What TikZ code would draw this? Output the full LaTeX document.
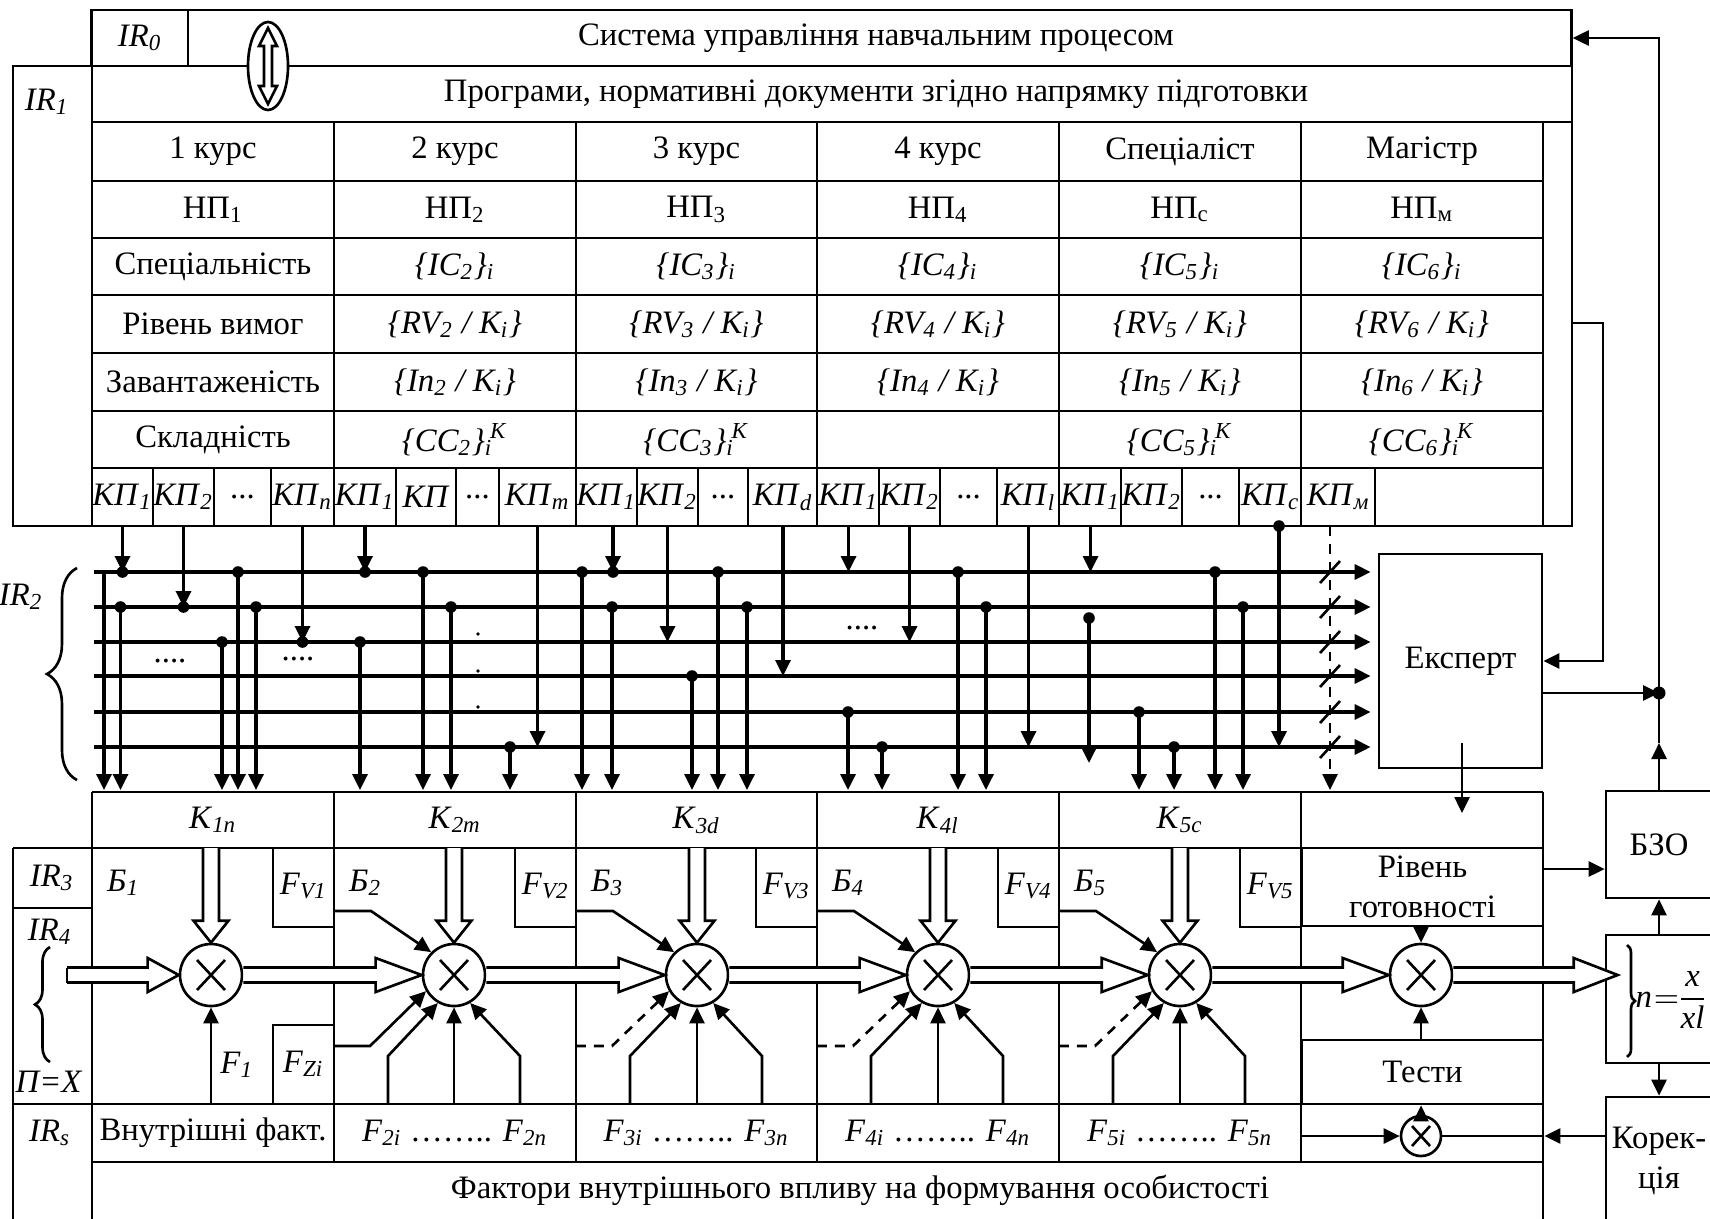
\documentclass[tikz,border=0pt]{standalone}
\usepackage{fontspec}
\setmainfont{Liberation Serif}
\usetikzlibrary{arrows.meta,calc,shapes.geometric,decorations.pathreplacing}

\newcommand{\isub}[2]{\textit{#1}\textsubscript{\textit{#2}}}
\newcommand{\ik}{\makebox[0pt][l]{\textsubscript{\textit{i}}}\textsuperscript{\textit{\kern1.5pt K}}}
% hollow arrows of the signal path
\newcommand{\fatright}[3][46]{%
  \draw[fill=white] ($(#2)+(0,-7.5)$) -- ($(#3)+(-#1,-7.5)$) -- ($(#3)+(-#1,-17)$) -- (#3)
    -- ($(#3)+(-#1,17)$) -- ($(#3)+(-#1,7.5)$) -- ($(#2)+(0,7.5)$);}
\newcommand{\fatdown}[1]{%
  \draw[fill=white] ($(#1 |- kbot)+(-8,0)$) -- ($(#1.north)+(-8,-22)$) -- ($(#1.north)+(-17.5,-22)$)
    -- (#1.north) -- ($(#1.north)+(17.5,-22)$) -- ($(#1.north)+(8,-22)$) -- ($(#1 |- kbot)+(8,0)$);}

\tikzset{
  arr/.style={-{Triangle[length=0.16cm,width=0.15cm]}},
  dsh/.style={dash pattern=on 2.8pt off 2.3pt},
  bus/.style={line width=0.95pt},
  box/.style={draw,inner sep=0pt},
  mult/.style={circle,draw,fill=white,inner sep=0pt,minimum size=0.62cm,
    path picture={\draw ($(path picture bounding box.center)+(-14,-15)$) -- ++(28,30)
      ($(path picture bounding box.center)+(-14,15)$) -- ++(28,-30);}},
  smallmult/.style={circle,draw,fill=white,inner sep=0pt,minimum size=0.4cm,
    path picture={\draw ($(path picture bounding box.center)+(-9,-10)$) -- ++(18,20)
      ($(path picture bounding box.center)+(-9,10)$) -- ++(18,-20);}},
}

\begin{document}
\begin{tikzpicture}[x=0.01cm,y=-0.01cm,line width=0.75pt]
\fontsize{9.3}{11.2}\selectfont
\useasboundingbox (0,0) rectangle (1710,1218);

% upper block: programmes and curricula
\node[box,minimum width=14.79cm,minimum height=0.56cm] (sys) at (831.5,38) {};
\draw (13,66) rectangle (1572,526);
\draw (188,10) -- (188,66);
\draw (92,66) -- (92,526);
\draw (92,122) -- (1572,122);
\draw (1543,122) -- (1543,526);
\foreach \y in {181,238,295,353,411,468} \draw (92,\y) -- (1543,\y);
\foreach \x in {334,576,817,1059,1301} \draw (\x,122) -- (\x,526);
\foreach \x in {153,214,271,396,456,499,637,698,748,879,940,997,1121,1182,1239,1375}
  \draw (\x,468) -- (\x,526);

\node (irzero) at (140,38) {\isub{IR}{0}};
\node (systxt) at (876,38) {Система управління навчальним процесом};
\node (prog) at (876,94) {Програми, нормативні документи згідно напрямку підготовки};
\node (irone) at (47,102) {\isub{IR}{1}};
\node[ellipse,draw,fill=white,minimum width=0.4cm,minimum height=0.88cm,inner sep=0pt] (swap) at (268,66) {};
\draw[shift={(swap.center)}] (0,-38) -- (9,-20) -- (4,-20) -- (4,20) -- (9,20) -- (0,38)
  -- (-9,20) -- (-4,20) -- (-4,-20) -- (-9,-20) -- cycle;

\foreach \x/\t [count=\c] in {213/1 курс,455/2 курс,696.5/3 курс,938/4 курс,1180/Спеціаліст,1422/Магістр}
  \node (yr\c) at (\x,151.5) {\t};
\foreach \x/\t [count=\c] in {213/1,455/2,696.5/3,938/4,1180/с,1422/м}
  \node (np\c) at (\x,209.5) {НП\textsubscript{\t}};
\node (spec) at (213,266.5) {Спеціальність};
\node (req) at (213,324) {Рівень вимог};
\node (load) at (213,382) {Завантаженість};
\node (cmpl) at (213,439.5) {Складність};
\foreach \x/\k in {455/2,696.5/3,938/4,1180/5,1422/6}{
  \node (ic\k) at (\x,266.5) {\textit{\{IC\textsubscript{\k}\}\textsubscript{i}}};
  \node (rv\k) at (\x,324) {\textit{\{RV\textsubscript{\k} / K\textsubscript{i}\}}};
  \node (in\k) at (\x,382) {\textit{\{In\textsubscript{\k} / K\textsubscript{i}\}}};
}
\foreach \x/\k in {455/2,696.5/3,1180/5,1422/6}
  \node (cc\k) at (\x,439.5) {\textit{\{CC\textsubscript{\k}\}}\ik};

\foreach \n/\x/\t in {
  11/122.5/{\isub{КП}{1}}, 12/183.5/{\isub{КП}{2}}, 13/242.5/{...}, 14/302.5/{\isub{КП}{n}},
  21/365/{\isub{КП}{1}}, 22/426/{\textit{КП}}, 23/477.5/{...}, 24/537.5/{\isub{КП}{m}},
  31/606.5/{\isub{КП}{1}}, 32/667.5/{\isub{КП}{2}}, 33/723/{...}, 34/783/{\isub{КП}{d}},
  41/848.5/{\isub{КП}{1}}, 42/909.5/{\isub{КП}{2}}, 43/968.5/{...}, 44/1028.5/{\isub{КП}{l}},
  51/1090.5/{\isub{КП}{1}}, 52/1151.5/{\isub{КП}{2}}, 53/1210.5/{...}, 54/1270.5/{\isub{КП}{c}},
  61/1338.5/{\isub{КП}{м}}}
  \node[inner sep=0pt] (kp\n) at (\x,497) {\t};

% lower block: stages
\draw (92,792) -- (1543,792);
\draw (13,848) -- (1543,848);
\draw (13,848) -- (13,1225);
\draw (92,792) -- (92,1225);
\draw (1543,792) -- (1543,1225);
\draw (13,908) -- (92,908);
\draw (13,1104) -- (1543,1104);
\draw (92,1162) -- (1543,1162);
\foreach \x in {334,576,817,1059,1301} \draw (\x,792) -- (\x,1162);
\foreach \r in {334,576,817,1059,1301} \draw (\r-61,848) -- (\r-61,927) -- (\r,927);
\draw (273,1104) -- (273,1025) -- (334,1025);

\coordinate (kpb) at (0,526);
\coordinate (ktop) at (0,790);
\coordinate (kbot) at (0,848);
\coordinate (ftop) at (0,1104);
\coordinate (inp) at (67,975);

\node[box,minimum width=1.63cm,minimum height=2.14cm] (exp) at (1460.5,661) {Експерт};
\node[box,minimum width=2.41cm,minimum height=0.78cm,align=center] (rg) at (1422.5,887) {Рівень\\готовності};
\node[box,minimum width=2.41cm,minimum height=0.64cm] (tst) at (1422.5,1072) {Тести};
\node[box,minimum width=1.06cm,minimum height=1.07cm] (bzo) at (1659,844.5) {БЗО};
\node[box,minimum width=1.06cm,minimum height=1.28cm] (nb) at (1659,999) {};
\node[box,minimum width=1.06cm,minimum height=1.28cm,align=center] (kor) at (1659,1161) {Корек-\\ція};

\foreach \x [count=\c] in {211,454,697,938,1180,1421} \node[mult] (m\c) at (\x,975) {};
\node[smallmult] (m7) at (1421,1136) {};

\foreach \x/\t [count=\c] in {213/1n,455/2m,696.5/3d,938/4l,1180/5c}
  \node (kk\c) at (\x,820) {\isub{K}{\t}};
\foreach \l [count=\c] in {92,334,576,817,1059}
  \node[anchor=west] (bb\c) at (\l+3,883) {\isub{Б}{\c}};
\foreach \r [count=\c] in {334,576,817,1059,1301}
  \node (fv\c) at (\r-30.5,886) {\isub{F}{V\c}};
\node (fz) at (303.5,1064) {\isub{F}{Zi}};
\node (fone) at (237,1065) {\isub{F}{1}};
\node (inner) at (213,1133) {Внутрішні факт.};
\foreach \x/\k in {455/2,696.5/3,938/4,1180/5}
  \node (fr\k) at (\x,1133) {\isub{F}{\k i} …….. \isub{F}{\k n}};
\node (infl) at (860,1190) {Фактори внутрішнього впливу на формування особистості};

\node (irtwo) at (21,597) {\isub{IR}{2}};
\node (irthree) at (52,878) {\isub{IR}{3}};
\node (irfour) at (50,932) {\isub{IR}{4}};
\node (px) at (49,1082) {\textit{П=X}};
\node (irs) at (50,1133) {\isub{IR}{s}};
\draw[decorate,decoration={brace,amplitude=0.3cm}] (77,780) -- (77,568);
\draw[decorate,decoration={brace,amplitude=0.15cm}] (50,1062) -- (50,947);

% bus IR2
\foreach \i/\y in {1/572,2/607,3/642,4/676,5/712,6/747} \coordinate (bus\i) at (94,\y);
\foreach \i in {1,...,6}{
  \draw[arr,bus,shorten >=0.07cm] (bus\i) -- (bus\i -| exp.west);
  \draw ($(bus\i)+(1226,11)$) -- ++(20,-22);
}
\draw[arr,dsh] ($(kp61 |- kpb)+(-8.5,0)$) -- ($(kp61 |- ktop)+(-8.5,0)$);

\foreach \n/\b/\s in {11/1/0,12/2/0,14/3/0,21/1/0,24/6/0,31/1/6.5,32/3/0,34/4/0,41/1/0,42/3/0,44/6/0,51/1/0,54/6/8.5}
  \draw[arr,bus] ($(kp\n |- kpb)+(\s,0)$) -- ($(kp\n |- bus\b)+(\s,0)$);
\foreach \n/\b/\s in {11/1/0,12/2/0,14/3/0,21/1/0,31/1/6.5}
  \fill ($(kp\n |- bus\b)+(\s,0)$) circle[radius=0.058cm];
\fill ($(kp54 |- kpb)+(8.5,0)$) circle[radius=0.058cm];

\draw[arr,bus] (104,0 |- bus1) -- (104,0 |- ktop);
\foreach \x/\b in {120.5/2,222/3,238/1,256/2,360/3,423/1,451/2,510/6,582/1,612/2,692/4,718/1,747/2,
                   848/5,882/6,958/1,986/2,1139/5,1174/6,1215/1,1243/2}{
  \draw[arr,bus] (\x,0 |- bus\b) -- (\x,0 |- ktop);
  \fill (\x,0 |- bus\b) circle[radius=0.058cm];
}
\coordinate (fl) at (1089,618);
\draw[arr,bus] (fl) -- ++(0,145);
\fill (fl) circle[radius=0.058cm];

\node[anchor=base] (dots1) at (170,662) {....};
\node[anchor=base] (dots2) at (298,660) {....};
\node[anchor=base] (dots3) at (862,629) {....};
\foreach \y in {634,671,707} \fill (478,\y) circle[radius=0.018cm];

% signal path
\fatright[31]{inp}{m1.west}
\draw ($(inp)+(0,-7.5)$) -- ($(inp)+(0,7.5)$);
\foreach \a/\b in {1/2,2/3,3/4,4/5,5/6}{\fatright{m\a.east}{m\b.west}}
\coordinate (nin) at ($(nb.west |- m6.east)+(13,0)$);
\fatright[44]{m6.east}{nin}
\foreach \i in {1,...,5}{\fatdown{m\i}}

\draw[arr] (m1 |- ftop) -- (m1.south);
\foreach \i/\l in {2/334,3/576,4/817,5/1059}{
  \draw[arr] (\l,911) -- ++(37,0) -- (m\i.135);
  \draw[arr] (\l+54,1104) -- ++(0,-48) -- (m\i.240);
  \draw[arr] (m\i |- ftop) -- (m\i.south);
  \draw[arr] (\l+186,1104) -- ++(0,-48) -- (m\i.300);
}
\draw[arr] (334,1046) -- ++(36,0) -- (m2.210);
\foreach \i/\l in {3/576,4/817,5/1059} \draw[arr,dsh] (\l,1046) -- ++(36,0) -- (m\i.210);

% readiness, tests, correction
\draw[arr] (m6 |- rg.south) -- (m6.north);
\draw[arr] (m6 |- tst.north) -- (m6.south);
\draw[arr] (m7.north) -- (m7 |- tst.south);
\draw[arr] (m7 -| rg.west) -- (m7.west);
\coordinate (kin) at (m7 -| tst.east);
\draw[arr] (kor.west |- m7) -- (kin);
\draw (kin) -- (m7.east);
\coordinate (rgout) at (1543,869);
\draw[arr] (rgout) -- (rgout -| bzo.west);
\draw[arr] (nb.north) -- (bzo.south);
\draw[arr] (nb.south) -- (kor.north);
\draw[decorate,decoration={brace,amplitude=0.08cm}] (1627,945) -- (1627,1057);
\node[inner sep=0pt] (nfrac) at (1670,1000) {\nulldelimiterspace=0pt$\textit{n}\mkern1mu{=}\mkern1mu\displaystyle\frac{\textit{x}}{\textit{xl}}$};

% feedback loops
\coordinate (jn) at (1659,693);
\coordinate (upt) at (1659,743);
\draw[arr] (bzo.north) -- (upt);
\draw (upt) -- (jn);
\draw[arr] (jn) |- (sys.east);
\draw[arr] (exp.east |- jn) -- (jn);
\fill (jn) circle[radius=0.065cm];
\coordinate (fb) at (1572,323);
\draw[arr] (fb) -- ++(31,0) |- (exp.east);
\coordinate (exd) at (1462,743);
\draw[arr] (exd) -- ++(0,70);
\end{tikzpicture}
\end{document}
